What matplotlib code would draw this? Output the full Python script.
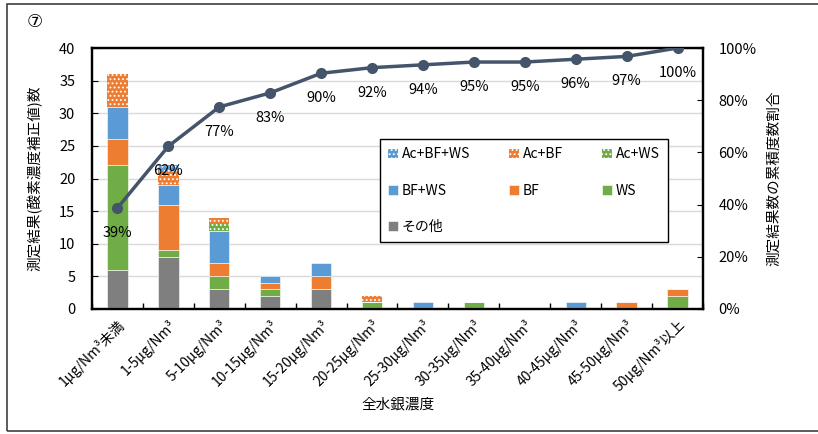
import numpy as np
import matplotlib.pyplot as plt
from matplotlib.patches import Rectangle

plt.rcParams['font.family'] = ['Noto Sans CJK JP', 'DejaVu Sans']
plt.rcParams['hatch.linewidth'] = 0.8

categories = ['1μg/Nm³未満', '1-5μg/Nm³', '5-10μg/Nm³', '10-15μg/Nm³', '15-20μg/Nm³',
              '20-25μg/Nm³', '25-30μg/Nm³', '30-35μg/Nm³', '35-40μg/Nm³', '40-45μg/Nm³',
              '45-50μg/Nm³', '50μg/Nm³以上']

other = [6, 8, 3, 2, 3, 0, 0, 0, 0, 0, 0, 0]
ws = [16, 1, 2, 1, 0, 1, 0, 1, 0, 0, 0, 2]
bf = [4, 7, 2, 1, 2, 0, 0, 0, 0, 0, 1, 1]
bf_ws = [5, 3, 5, 1, 2, 0, 1, 0, 0, 1, 0, 0]
ac_ws = [0, 0, 1, 0, 0, 0, 0, 0, 0, 0, 0, 0]
ac_bf = [5, 2, 1, 0, 0, 1, 0, 0, 0, 0, 0, 0]
ac_bf_ws = [0, 1, 0, 0, 0, 0, 0, 0, 0, 0, 0, 0]

series = [
    ('その他', other, '#7F7F7F', None),
    ('WS', ws, '#70AD47', None),
    ('BF', bf, '#ED7D31', None),
    ('BF+WS', bf_ws, '#5B9BD5', None),
    ('Ac+WS', ac_ws, '#70AD47', '....'),
    ('Ac+BF', ac_bf, '#ED7D31', '....'),
    ('Ac+BF+WS', ac_bf_ws, '#5B9BD5', '....'),
]

totals = np.sum([s[1] for s in series], axis=0)
cum = np.cumsum(totals) / totals.sum() * 100

fig = plt.figure(figsize=(8.18, 4.34), dpi=100)
ax = fig.add_axes([92/818, 125/434, 611/818, 261/434])
ax2 = ax.twinx()

x = np.arange(len(categories))
bottom = np.zeros(len(categories))
handles = {}
for name, vals, color, hatch in series:
    vals = np.array(vals, dtype=float)
    b = ax.bar(x, vals, 0.4, bottom=bottom, color=color, edgecolor='white',
               linewidth=0.4 if hatch is None else 0, hatch=hatch, zorder=3, label=name)
    handles[name] = b
    bottom += vals

ax2.plot(x, cum, color='#44546A', lw=2.5, marker='o', ms=7, zorder=5)
for xi, v in zip(x, cum):
    ax2.annotate('%d%%' % round(v), (xi, v), xytext=(0, -18), textcoords='offset points',
                 ha='center', va='center', fontsize=10.5)

ax.set_xlim(-0.5, len(categories) - 0.5)
ax.set_ylim(0, 40)
ax.set_yticks(np.arange(0, 41, 5))
ax2.set_ylim(0, 100)
ax2.set_yticks(np.arange(0, 101, 20))
ax2.set_yticklabels(['%d%%' % v for v in range(0, 101, 20)])

ax.set_xticks(x)
ax.set_xticklabels(categories, rotation=45, ha='right', rotation_mode='anchor', fontsize=10)
ax.set_xticks(np.arange(-0.5, len(categories)), minor=True)
ax.tick_params(axis='x', which='major', length=0, pad=6)
ax.tick_params(axis='x', which='minor', length=4, direction='in', width=1)
ax.tick_params(axis='y', direction='in', length=4, labelsize=10.5, pad=12)
ax2.tick_params(axis='y', direction='in', length=4, labelsize=10.5, pad=11)

ax.grid(axis='y', color='#D9D9D9', lw=1, zorder=0)
ax.set_axisbelow(True)
for a in (ax, ax2):
    for s in a.spines.values():
        s.set_linewidth(1.6)
        s.set_color('black')

ax.set_ylabel('測定結果(酸素濃度補正値)数', fontsize=10.5, labelpad=12)
ax2.set_ylabel('測定結果数の累積度数割合', fontsize=10.5, rotation=90, labelpad=8)
ax.set_xlabel('全水銀濃度', fontsize=10.5, labelpad=2)

order = ['Ac+BF+WS', 'BF+WS', 'その他', 'Ac+BF', 'BF', 'Ac+WS', 'WS']
leg = ax2.legend([handles[n] for n in order], order, ncol=3, mode='expand',
                 bbox_to_anchor=(0.471, 0.253, 0.472, 0.402), loc='center',
                 fontsize=10, frameon=True, fancybox=False, edgecolor='black',
                 framealpha=1, handlelength=0.7, handleheight=0.7, handletextpad=0.3,
                 labelspacing=1.6, borderpad=0.6, borderaxespad=0)
leg.get_frame().set_linewidth(1.0)
leg.set_zorder(10)
ax2.set_zorder(ax.get_zorder() + 1)
ax2.patch.set_visible(False)

fig.text(35/818, 1 - 22/434, '⑦', fontsize=13, ha='center', va='center',
         family=['DejaVu Sans'])
fig.patches.append(Rectangle((7/818, 3/434), 1.0, 427/434, transform=fig.transFigure,
                             fill=False, edgecolor='#404040', lw=1.2))

fig.savefig('out.png', dpi=100)
